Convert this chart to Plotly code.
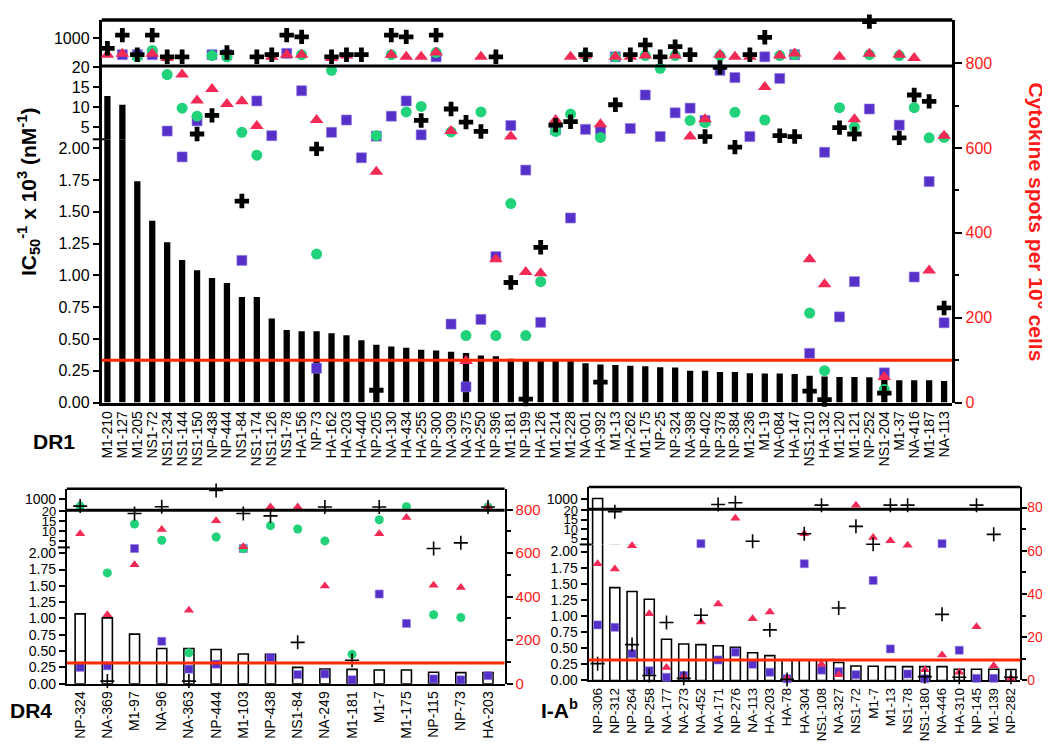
import plotly.graph_objects as go

# ---------------------------------------------------------------- data
dr1_peptides = ["M1-210", "M1-127", "M1-205", "NS1-72", "NS1-234", "NS1-144", "NS1-150", "NP-438", "NP-444", "NS1-84",
                "NS1-174", "NS1-126", "NS1-78", "HA-156", "NP-73", "HA-162", "HA-203", "HA-440", "NP-205", "NA-130",
                "HA-434", "HA-255", "NP-300", "NA-309", "NA-375", "HA-250", "NP-396", "M1-181", "NP-199", "HA-126",
                "M1-214", "M1-228", "NA-001", "HA-392", "M1-13", "HA-262", "M1-175", "NP-25", "NP-324", "NA-398",
                "NP-402", "NP-378", "NP-384", "M1-236", "M1-19", "NA-084", "HA-147", "NS1-210", "HA-132", "M1-120",
                "M1-121", "NP-252", "NS1-204", "M1-37", "NA-416", "M1-187", "NA-113"]
dr1_ic50 = [12.8, 10.6, 1.74, 1.43, 1.26, 1.12, 1.04, 0.98, 0.94, 0.83,
            0.83, 0.66, 0.57, 0.56, 0.56, 0.545, 0.53, 0.49, 0.455, 0.44,
            0.43, 0.415, 0.41, 0.40, 0.39, 0.37, 0.365, 0.345, 0.34, 0.34,
            0.335, 0.33, 0.31, 0.30, 0.295, 0.29, 0.285, 0.278, 0.275, 0.25,
            0.25, 0.24, 0.24, 0.23, 0.228, 0.228, 0.225, 0.21, 0.205, 0.20,
            0.20, 0.198, 0.19, 0.175, 0.175, 0.175, 0.17]
dr1_cross = [835, 866, 820, 866, 815, 815, 633, 677, 825, 475,
             815, 820, 866, 862, 598, 815, 820, 820, 29, 866,
             862, 665, 866, 692, 661, 639, 815, 283, 8, 366,
             654, 662, 820, 48, 702, 820, 843, 815, 839, 820,
             627, 790, 602, 820, 861, 629, 627, 27, 7, 648,
             633, 898, 22, 624, 725, 710, 223]
dr1_square = [None, 820, 820, 820, 640, 579, 664, 820, 820, 335,
              711, 629, 823, 735, 81, 637, 666, 577, 628, 675,
              711, 631, 815, 185, 37, 196, 344, 653, 548, 189,
              643, 435, 644, 642, 815, 646, 725, 627, 683, 694,
              665, 783, 766, 627, 815, 764, 820, 116, 590, 202,
              285, 692, 70, 654, 296, 521, 188]
dr1_circle = [None, None, 815, 830, 773, 694, 675, 818, 815, 637,
              583, None, None, 820, 350, 783, None, None, 629, 820,
              685, 698, 825, 638, 158, 685, 158, 469, 158, 285,
              639, 680, 818, 625, 815, None, 818, 788, 818, 665,
              660, 818, 684, None, 666, 818, 820, 211, 75, 695,
              650, 820, 31, 818, 695, 624, 625]
dr1_triangle = [820, 822, None, 822, 812, 773, 712, 739, 704, 710,
                652, 815, 820, 820, 666, 812, 818, None, 544, 820,
                815, 815, 825, 640, 98, 815, 338, 627, 308, 305,
                666, 815, 818, 656, 815, 815, 818, None, 818, 627,
                668, 820, 815, 815, 744, 818, 823, 338, 279, 815,
                668, 822, 60, 820, 812, 311, 629]

dr4_peptides = ["NP-324", "NA-369", "M1-97", "NA-96", "NA-363", "NP-444", "M1-103", "NP-438",
                "NS1-84", "NA-249", "M1-181", "M1-7", "M1-175", "NP-115", "NP-73", "HA-203"]
dr4_ic50 = [1.07, 1.01, 0.76, 0.54, 0.54, 0.525, 0.455, 0.45, 0.25, 0.225, 0.22, 0.21, 0.21, 0.175, 0.17, 0.17]
dr4_cross = [816, 12, 782, 813, 12, 888, 782, 771, 190, 812, 108, 812, 899, 621, 647, 812]
dr4_square = [75, 82, 621, 195, 67, 90, 621, 120, 42, 45, 18, 412, 277, 22, 18, 37]
dr4_circle = [816, 509, 734, 659, 142, 674, 621, 726, 711, 656, 135, 753, 813, 317, 304, 812]
dr4_triangle = [689, 317, 547, 708, 337, 749, 629, 812, 812, 449, None, 689, 764, 452, 442, 812]

iab_peptides = ["NP-306", "NP-312", "NP-264", "NP-258", "NA-177", "NA-273", "NA-452", "NA-171", "NP-276",
                "NA-113", "HA-203", "HA-78", "HA-304", "NS1-108", "NA-327", "NS1-72", "M1-7", "M1-13",
                "NS1-78", "NS1-180", "NA-446", "HA-310", "NP-145", "M1-139", "NP-282"]
iab_ic50 = [1100, 1.44, 1.38, 1.26, 0.64, 0.565, 0.556, 0.54, 0.515, 0.43, 0.385, 0.315, 0.32,
            0.31, 0.28, 0.225, 0.22, 0.215, 0.215, 0.215, 0.215, 0.175, 0.175, 0.175, 0.17]
iab_cross = [78, 781, 166, 23, 268, 10, 302, 814, 822, 644, 234, 5, 679,
             811, 335, 713, 630, 811, 811, 18, 306, 15, 811, 676, 15]
iab_square = [257, 246, 124, 45, 15, 23, 633, 95, 131, 75, 38, 8, 540,
              48, 41, 27, 463, 146, 30, 8, 633, 140, 10, 10, None]
iab_triangle = [540, 516, 623, 309, 60, 17, 271, 354, 750, 286, 317, 12, 679,
                75, 27, 811, 661, 646, 626, 50, 118, 38, 249, 68, 10]
iab_circle = [None] * len(iab_peptides)

low_ticks = [0, 0.25, 0.5, 0.75, 1.0, 1.25, 1.5, 1.75, 2.0]
low_tick_text = ["0.00", "0.25", "0.50", "0.75", "1.00", "1.25", "1.50", "1.75", "2.00"]
mid_ticks = [5, 10, 15, 20]
top_ticks = [1000]
right_ticks = [0, 200, 400, 600, 800]
right_minor = [100, 300, 500, 700]
thresholds = [100, 95, 95]

# ---------------------------------------------------------------- style
W, H = 1050, 750
FONT = "Arial, Liberation Sans, Helvetica, sans-serif"
SQ_COL = "#5630c8"
CI_COL = "#21d27b"
TR_COL = "#f22a55"
RED_LINE = "#ff2a00"
RED_TXT = "#ff1a1a"

panels = [
    dict(peptides=dr1_peptides, ic50=dr1_ic50, cross=dr1_cross, square=dr1_square,
         circle=dr1_circle, triangle=dr1_triangle, threshold=thresholds[0],
         x_px=(91, 944), x_range=(-0.38, 56.55),
         seg_px=[(396, 127), (127, 52), (52, 5)],
         seg_range=[(0, 2.07), (2, 20.3), (20, 1665)],
         right_range=(0, 902), filled=True, bar_width=0.42,
         lw=3, lfont=16, midfont=16, rfont=16, xfont=14, rticklen=7, rstandoff=0,
         msize=dict(square=10, circle=11, triangle=12, cross=12), cross_symbol="cross"),
    dict(peptides=dr4_peptides, ic50=dr4_ic50, cross=dr4_cross, square=dr4_square,
         circle=dr4_circle, triangle=dr4_triangle, threshold=thresholds[1],
         x_px=(56, 495), x_range=(-0.49, 15.61),
         seg_px=[(683.3, 544), (544, 506), (506, 484)],
         seg_range=[(0, 2.09), (2, 20.6), (20, 1980)],
         right_range=(0, 896), filled=False, bar_width=0.37,
         lw=2, lfont=14, midfont=13, rfont=15, xfont=14, rticklen=6, rstandoff=0,
         msize=dict(square=8, circle=9, triangle=9, cross=10), cross_symbol="cross-thin"),
    dict(peptides=iab_peptides, ic50=iab_ic50, cross=iab_cross, square=iab_square,
         circle=iab_circle, triangle=iab_triangle, threshold=thresholds[2],
         x_px=(579.3, 1012.3), x_range=(-0.52, 24.55),
         seg_px=[(680, 541), (541, 505), (505, 482.3)],
         seg_range=[(0, 2.11), (2, 20.5), (20, 2245)],
         right_range=(0, 895), filled=False, bar_width=0.58,
         lw=2, lfont=14, midfont=13, rfont=14, xfont=13.5, rticklen=5, rstandoff=-3,
         msize=dict(square=8, circle=9, triangle=9, cross=10), cross_symbol="cross-thin"),
]


def ax_name(letter, k):
    return letter if k == 1 else f"{letter}{k}"


def layout_key(letter, k):
    return f"{letter}axis" if k == 1 else f"{letter}axis{k}"


fig = go.Figure()
layout = dict(width=W, height=H, margin=dict(l=0, r=0, t=0, b=0),
              paper_bgcolor="white", plot_bgcolor="rgba(0,0,0,0)",
              showlegend=False, barmode="overlay", hovermode=False,
              font=dict(family=FONT, color="black"))
shapes, annotations = [], []

for p, spec in enumerate(panels):
    xk = p + 1
    yk = [4 * p + 1 + j for j in range(4)]
    xid = ax_name("x", xk)
    yids = [ax_name("y", k) for k in yk]
    x0p, x1p = spec["x_px"]
    lw = spec["lw"]

    layout[layout_key("x", xk)] = dict(
        domain=[x0p / W, x1p / W], range=list(spec["x_range"]), anchor=yids[0],
        type="category", categoryorder="array", categoryarray=spec["peptides"],
        tickmode="array", tickvals=spec["peptides"], ticktext=spec["peptides"],
        showline=True, linewidth=lw, linecolor="black", ticks="", tickangle=-90,
        tickfont=dict(size=spec["xfont"], color="black"), showgrid=False, zeroline=False)

    seg_ticks = [(low_ticks, low_tick_text, spec["lfont"]),
                 (mid_ticks, [str(v) for v in mid_ticks], spec["midfont"]),
                 (top_ticks, [str(v) for v in top_ticks], spec["lfont"])]
    for j in range(3):
        b, t = spec["seg_px"][j]
        tv, tt, fs = seg_ticks[j]
        layout[layout_key("y", yk[j])] = dict(
            domain=[1 - b / H, 1 - t / H], range=list(spec["seg_range"][j]), anchor=xid,
            showline=True, linewidth=lw, linecolor="black", ticks="outside", ticklen=6,
            tickwidth=2, tickcolor="black", tickmode="array", tickvals=tv, ticktext=tt,
            tickfont=dict(size=fs, color="black"), showgrid=False, zeroline=False)

    b, t = spec["seg_px"][0][0], spec["seg_px"][2][1]
    layout[layout_key("y", yk[3])] = dict(
        domain=[1 - b / H, 1 - t / H], range=list(spec["right_range"]), anchor=xid,
        side="right", showline=True, linewidth=lw, linecolor="black", ticks="outside",
        ticklen=spec["rticklen"], tickwidth=2, tickcolor="black", tickmode="array",
        tickvals=right_ticks, tickfont=dict(size=spec["rfont"], color=RED_TXT),
        ticklabelstandoff=spec["rstandoff"],
        showgrid=False, zeroline=False,
        minor=dict(tickmode="array", tickvals=right_minor, ticks="outside", ticklen=4,
                   tickwidth=2, tickcolor="black", showgrid=False))

    # bars in each segment of the broken axis
    for j in range(3):
        if spec["filled"]:
            mk = dict(color="black", line=dict(color="black", width=0))
        else:
            mk = dict(color="white", line=dict(color="black", width=1.6))
        fig.add_trace(go.Bar(x=spec["peptides"], y=spec["ic50"], xaxis=xid, yaxis=yids[j],
                             width=spec["bar_width"], marker=mk, hoverinfo="skip"))

    # cytokine spots markers on the right axis
    ms = spec["msize"]
    series = [
        (spec["square"], dict(symbol="square", size=ms["square"], color=SQ_COL,
                              line=dict(color="#8f78e6", width=0.6))),
        (spec["circle"], dict(symbol="circle", size=ms["circle"], color=CI_COL, line=dict(width=0))),
        (spec["triangle"], dict(symbol="triangle-up", size=ms["triangle"], color=TR_COL, line=dict(width=0))),
    ]
    if spec["cross_symbol"] == "cross":
        series.append((spec["cross"], dict(symbol="cross", size=ms["cross"], color="black",
                                           line=dict(width=0))))
    else:
        series.append((spec["cross"], dict(symbol="cross-thin", size=ms["cross"],
                                           line=dict(color="black", width=1.6))))
    for vals, mk in series:
        fig.add_trace(go.Scatter(x=spec["peptides"], y=vals, mode="markers", xaxis=xid,
                                 yaxis=yids[3], marker=mk, cliponaxis=False, hoverinfo="skip"))

    # threshold line
    shapes.append(dict(type="line", xref=f"{xid} domain", x0=0, x1=1, yref=yids[3],
                       y0=spec["threshold"], y1=spec["threshold"],
                       line=dict(color=RED_LINE, width=3), layer="above"))
    # top border and break line of the upper box
    for yy in (0, 1):
        shapes.append(dict(type="line", xref=f"{xid} domain", x0=0, x1=1,
                           yref=f"{yids[2]} domain", y0=yy, y1=yy,
                           line=dict(color="black", width=3 if yy == 0 else lw + 0.5),
                           layer="above"))
    # small break mark on the left axis between low and middle segments
    yb = 1 - spec["seg_px"][0][1] / H
    shapes.append(dict(type="line", xref="paper", yref="paper",
                       x0=(x0p - 9) / W, x1=(x0p + 3) / W, y0=yb, y1=yb,
                       line=dict(color="black", width=2)))

# axis titles and panel labels
annotations.append(dict(xref="paper", yref="paper", x=17 / W, y=1 - 180 / H, showarrow=False,
                        textangle=-90, xanchor="center", yanchor="middle",
                        text="<b>IC<sub>50</sub><sup>-1</sup> x 10<sup>3</sup> (nM<sup>-1</sup>)</b>",
                        font=dict(size=21, color="black", family=FONT)))
annotations.append(dict(xref="paper", yref="paper", x=1029 / W, y=1 - 211 / H, showarrow=False,
                        textangle=90, xanchor="center", yanchor="middle",
                        text="<b>Cytokine spots per 10<sup>6</sup> cells</b>",
                        font=dict(size=21, color=RED_TXT, family=FONT)))
for txt, xp, yp in [("<b>DR1</b>", 43, 436), ("<b>DR4</b>", 20, 711), ("<b>I-A<sup>b</sup></b>", 550, 709)]:
    annotations.append(dict(xref="paper", yref="paper", x=xp / W, y=1 - yp / H, showarrow=False,
                            xanchor="center", yanchor="middle", text=txt,
                            font=dict(size=21, color="black", family=FONT)))

layout["shapes"] = shapes
layout["annotations"] = annotations
fig.update_layout(**layout)
fig.write_html("out.html")
